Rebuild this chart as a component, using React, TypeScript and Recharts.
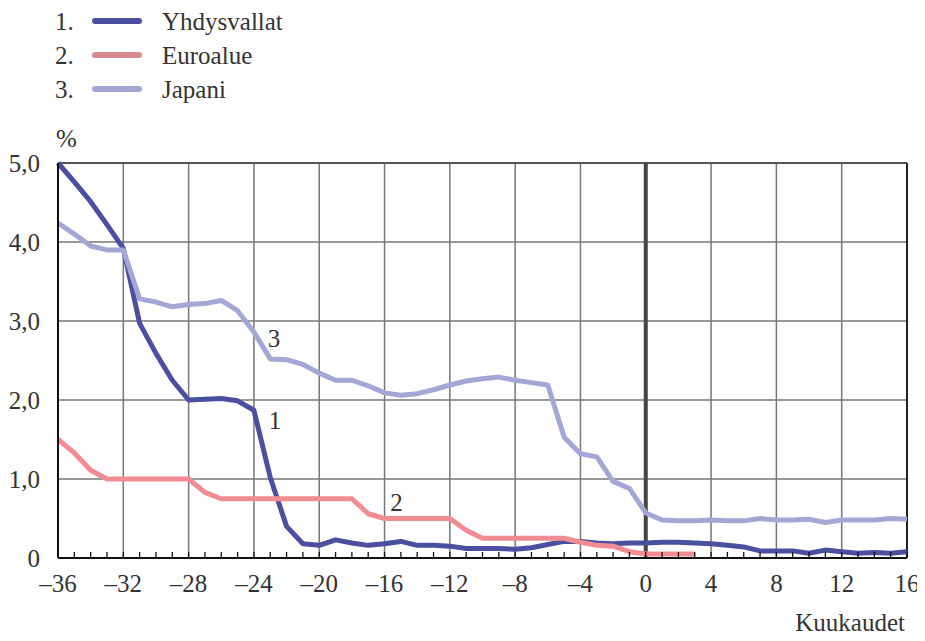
import React from 'react';
import { LineChart, Line, XAxis, YAxis, CartesianGrid, ReferenceLine } from 'recharts';

// months relative to the start of the easing (0 = thick line)
const MONTHS = Array.from({ length: 53 }, (_, i) => i - 36);

const US = [
  5.0, 4.76, 4.51, 4.22, 3.92, 2.97, 2.59, 2.25, 2.0, 2.01, 2.02, 1.99, 1.87, 1.02, 0.4, 0.18, 0.16, 0.23,
  0.19, 0.16, 0.18, 0.21, 0.16, 0.16, 0.15, 0.12, 0.12, 0.12, 0.11, 0.13, 0.17, 0.21, 0.21, 0.19, 0.18, 0.19,
  0.19, 0.2, 0.2, 0.19, 0.18, 0.16, 0.14, 0.09, 0.09, 0.09, 0.06, 0.1, 0.08, 0.06, 0.07, 0.06, 0.08,
];

const EURO = [
  1.5, 1.33, 1.11, 1.0, 1.0, 1.0, 1.0, 1.0, 1.0, 0.83, 0.75, 0.75, 0.75, 0.75, 0.75, 0.75, 0.75, 0.75,
  0.75, 0.56, 0.5, 0.5, 0.5, 0.5, 0.5, 0.35, 0.25, 0.25, 0.25, 0.25, 0.25, 0.25, 0.2, 0.16, 0.15, 0.08,
  0.05, 0.05, 0.05, 0.05,
];

const JAPAN = [
  4.24, 4.1, 3.95, 3.9, 3.9, 3.28, 3.24, 3.18, 3.21, 3.22, 3.26, 3.13, 2.86, 2.52, 2.51, 2.45, 2.34, 2.25,
  2.25, 2.18, 2.09, 2.06, 2.08, 2.13, 2.19, 2.24, 2.27, 2.29, 2.25, 2.22, 2.19, 1.53, 1.32, 1.28, 0.97, 0.88,
  0.57, 0.48, 0.47, 0.47, 0.48, 0.47, 0.47, 0.5, 0.48, 0.48, 0.49, 0.45, 0.48, 0.48, 0.48, 0.5, 0.49,
];

const X_TICKS = [-36, -32, -28, -24, -20, -16, -12, -8, -4, 0, 4, 8, 12, 16];
const X_MINOR = MONTHS;
const Y_TICKS = [0, 1, 2, 3, 4, 5];
const Y_MINOR = [0.5, 1.5, 2.5, 3.5, 4.5];

const SERIES = [
  { key: 'us', name: 'Yhdysvallat', num: '1', color: '#4a4f9f', legend: '#4a4f9f', labelAt: -24, dx: 21, dy: 10 },
  { key: 'euro', name: 'Euroalue', num: '2', color: '#f28c93', legend: '#d98a8f', labelAt: -16, dx: 12, dy: -16 },
  { key: 'japan', name: 'Japani', num: '3', color: '#a3a7d6', legend: '#a3a7d6', labelAt: -24, dx: 20, dy: 6 },
];

const data = MONTHS.map((m, i) => ({
  month: m,
  us: US[i],
  euro: i < EURO.length ? EURO[i] : null,
  japan: JAPAN[i],
}));

const FONT = "'Liberation Serif', 'DejaVu Serif', serif";
const TEXT = '#333';
const FS = 25;

const fmtX = (v: number) => (v < 0 ? `–${Math.abs(v)}` : String(v));
const fmtY = (v: number) => (v === 0 ? '0' : v.toFixed(1).replace('.', ','));

// minor axes: keep the tick marks, draw no text
const noText = () => <g />;

const lineLabel = (s: typeof SERIES[number]) => (props: any) => {
  const { x, y, index } = props;
  if (MONTHS[index] !== s.labelAt) return null;
  return (
    <text
      key={`lbl-${s.key}`}
      x={x + s.dx}
      y={y + s.dy}
      textAnchor="middle"
      dominantBaseline="central"
      style={{ fontFamily: FONT }}
      fontSize={FS}
      fill={TEXT}
    >
      {s.num}
    </text>
  );
};

export default function App() {
  return (
    <div style={{ position: 'relative', width: 925, height: 641, margin: -8, fontFamily: FONT, color: TEXT }}>
      <div style={{ position: 'absolute', left: 55, top: 4, fontSize: FS, lineHeight: '33px' }}>
        {SERIES.map((s) => (
          <div key={s.key} style={{ display: 'flex', alignItems: 'center', height: 34 }}>
            <span style={{ width: 37 }}>{s.num}.</span>
            <span style={{ width: 50, height: 6, borderRadius: 3, background: s.legend, marginRight: 20 }} />
            <span>{s.name}</span>
          </div>
        ))}
      </div>
      <div style={{ position: 'absolute', left: 56, top: 126, fontSize: FS, lineHeight: 1 }}>%</div>
      <div style={{ position: 'absolute', right: 20, top: 610, fontSize: FS, lineHeight: 1 }}>Kuukaudet</div>
      <LineChart
        width={925}
        height={641}
        data={data}
        margin={{ top: 163, right: 18, bottom: 43, left: 0 }}
        style={{ fontFamily: FONT }}
      >
        <CartesianGrid stroke="#777" strokeWidth={1.5} />
        <XAxis
          dataKey="month"
          type="number"
          domain={[-36, 16]}
          ticks={X_TICKS}
          tickFormatter={fmtX}
          height={40}
          tickLine={false}
          axisLine={{ stroke: '#111', strokeWidth: 2 }}
          tickMargin={10}
          tick={{ fill: TEXT, fontSize: FS, fontFamily: FONT }}
          interval={0}
        />
        <XAxis
          xAxisId="minor"
          dataKey="month"
          type="number"
          domain={[-36, 16]}
          ticks={X_MINOR}
          interval={0}
          mirror
          tick={noText}
          tickSize={6}
          tickLine={{ stroke: '#111', strokeWidth: 1.3 }}
          axisLine={false}
        />
        <YAxis
          type="number"
          domain={[0, 5]}
          ticks={Y_TICKS}
          tickFormatter={fmtY}
          width={58}
          tickLine={false}
          axisLine={{ stroke: '#111', strokeWidth: 2 }}
          tickMargin={12}
          tick={{ fill: TEXT, fontSize: FS, fontFamily: FONT }}
          interval={0}
        />
        <YAxis
          yAxisId="minor"
          type="number"
          domain={[0, 5]}
          ticks={Y_MINOR}
          interval={0}
          mirror
          tick={noText}
          tickSize={7}
          tickLine={{ stroke: '#111', strokeWidth: 1.3 }}
          axisLine={false}
        />
        <ReferenceLine y={5} stroke="#555" strokeWidth={2} />
        <ReferenceLine x={16} stroke="#222" strokeWidth={2} />
        <ReferenceLine x={0} stroke="#444" strokeWidth={4} />
        {SERIES.map((s) => (
          <Line
            key={s.key}
            dataKey={s.key}
            name={s.name}
            type="linear"
            stroke={s.color}
            strokeWidth={5}
            dot={false}
            activeDot={false}
            connectNulls={false}
            strokeLinejoin="round"
            isAnimationActive={false}
            label={lineLabel(s)}
          />
        ))}
      </LineChart>
    </div>
  );
}
